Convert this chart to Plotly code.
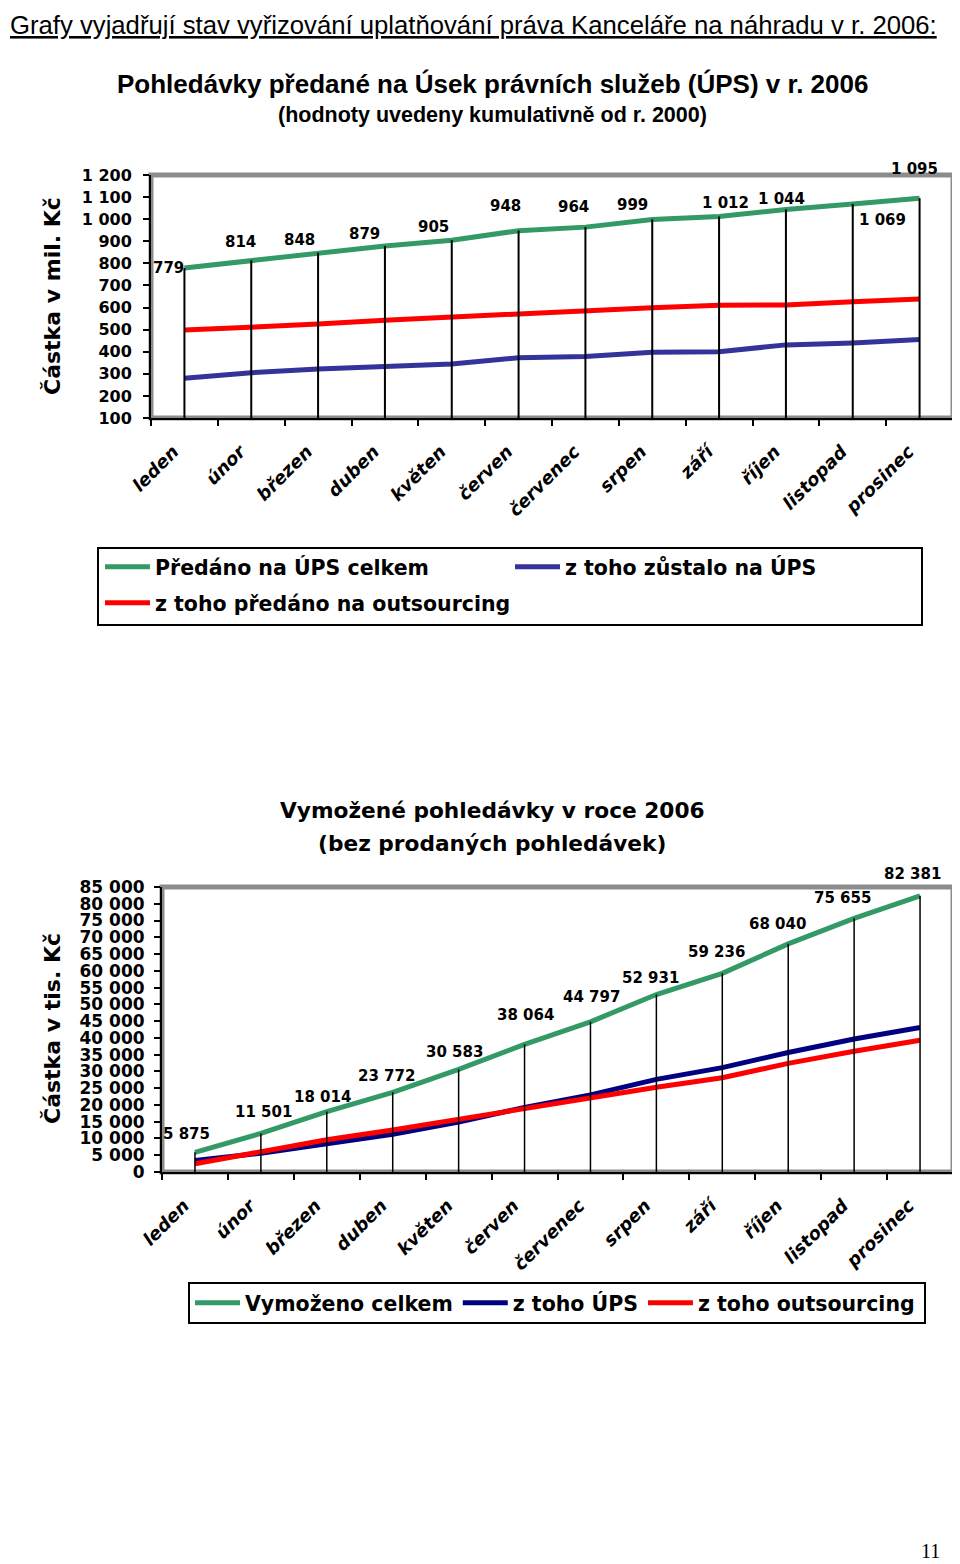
import plotly.graph_objects as go

# The page body has an 8 px margin, so the figure is sized to fill the rest of the window
OFF = 8
W, H = 960 - OFF, 1564 - OFF

# ---------------- data ----------------
months = ["leden", "únor", "březen", "duben", "květen", "červen",
          "červenec", "srpen", "září", "říjen", "listopad", "prosinec"]

# Chart 1: Pohledávky předané na ÚPS (mil. Kč, kumulativně od r. 2000)
predano_celkem = [779, 814, 848, 879, 905, 948, 964, 999, 1012, 1044, 1069, 1095]
zustalo_ups = [280, 305, 322, 335, 345, 373, 378, 398, 400, 431, 440, 455]
predano_outsourcing = [498, 509, 525, 543, 558, 574, 584, 599, 610, 612, 626, 639]

# Chart 2: Vymožené pohledávky v roce 2006 (tis. Kč)
vymozeno_celkem = [5875, 11501, 18014, 23772, 30583, 38064, 44797, 52931, 59236, 68040, 75655, 82381]
vymozeno_ups = [3400, 5600, 8400, 11270, 14880, 19260, 23000, 27630, 31136, 35640, 39655, 43081]
vymozeno_outsourcing = [2475, 5900, 9600, 12500, 15700, 18800, 21800, 25300, 28100, 32400, 36000, 39300]

# y-axis ranges / ticks
y1_range = [100, 1200]
y1_dtick = 100
y2_range = [0, 85000]
y2_dtick = 5000

# manual label offsets (pixels: dx, dy-up) as placed in the original
off1 = [(-16, 0), (-11, 18), (-19, 13), (-20, 12), (-18, 13), (-13, 25),
        (-12, 20), (-20, 14), (6, 14), (-4, 10), (30, -16), (-5, 29)]
off2 = [(-8, 18), (3, 21), (-4, 15), (-6, 16), (-4, 17), (1, 29),
        (1, 25), (-6, 17), (-6, 21), (-11, 20), (-12, 20), (-8, 22)]

GREEN = "#339966"
RED = "#FF0000"
BLUE1 = "#333399"
BLUE2 = "#000080"
FRAME = "#8C8C8C"
BOLD = "DejaVu Sans"
ARIAL = "Liberation Sans, Arial"


def px(x):
    return (x - OFF) / W


def py(y):
    return 1 - (y - OFF) / H


def fmt(v):
    return f"{v:,}".replace(",", " ")


fig = go.Figure()

# ---------------- chart 1 ----------------
fig.add_trace(go.Scatter(x=months, y=predano_celkem, mode="lines", name="Předáno na ÚPS celkem",
                         line=dict(color=GREEN, width=5), xaxis="x", yaxis="y", legend="legend",
                         hoverinfo="skip"))
fig.add_trace(go.Scatter(x=months, y=zustalo_ups, mode="lines", name="z toho zůstalo na ÚPS",
                         line=dict(color=BLUE1, width=5), xaxis="x", yaxis="y", legend="legend",
                         hoverinfo="skip"))
fig.add_trace(go.Scatter(x=months, y=predano_outsourcing, mode="lines", name="z toho předáno na outsourcing",
                         line=dict(color=RED, width=5), xaxis="x", yaxis="y", legend="legend2",
                         hoverinfo="skip"))
dx1, dy1 = [], []
for m, v in zip(months, predano_celkem):
    dx1 += [m, m, None]
    dy1 += [y1_range[0], v, None]
fig.add_trace(go.Scatter(x=dx1, y=dy1, mode="lines", line=dict(color="black", width=2),
                         showlegend=False, hoverinfo="skip", xaxis="x", yaxis="y"))

# ---------------- chart 2 ----------------
fig.add_trace(go.Scatter(x=months, y=vymozeno_celkem, mode="lines", name="Vymoženo celkem",
                         line=dict(color=GREEN, width=5), xaxis="x2", yaxis="y2", legend="legend3",
                         hoverinfo="skip"))
fig.add_trace(go.Scatter(x=months, y=vymozeno_ups, mode="lines", name="z toho ÚPS",
                         line=dict(color=BLUE2, width=5), xaxis="x2", yaxis="y2", legend="legend3",
                         hoverinfo="skip"))
fig.add_trace(go.Scatter(x=months, y=vymozeno_outsourcing, mode="lines", name="z toho outsourcing",
                         line=dict(color=RED, width=5), xaxis="x2", yaxis="y2", legend="legend3",
                         hoverinfo="skip"))
dx2, dy2 = [], []
for m, v in zip(months, vymozeno_celkem):
    dx2 += [m, m, None]
    dy2 += [y2_range[0], v, None]
fig.add_trace(go.Scatter(x=dx2, y=dy2, mode="lines", line=dict(color="black", width=1.5),
                         showlegend=False, hoverinfo="skip", xaxis="x2", yaxis="y2"))

xcommon = dict(type="category", categoryorder="array", categoryarray=months, range=[-0.5, 11.5],
               tickson="boundaries", ticks="outside", ticklen=6, tickwidth=2, tickcolor="black",
               showline=True, linecolor="black", linewidth=2, showgrid=False, zeroline=False,
               automargin=False, tickangle=-45, ticklabelstandoff=14, ticklabelshift=-11,
               tickfont=dict(family=BOLD, size=18, weight="bold", style="italic", color="black"))
ycommon = dict(tickformat=",d", ticks="outside", ticklen=6, tickwidth=2, tickcolor="black",
               showline=True, linecolor="black", linewidth=2, showgrid=False, zeroline=False,
               automargin=False)

legfont = dict(family=BOLD, size=20.5, weight="bold", color="black")
fig.update_layout(
    width=W, height=H, margin=dict(l=0, r=0, t=0, b=0, autoexpand=False),
    paper_bgcolor="white", plot_bgcolor="white", separators=", ",
    font=dict(family=BOLD, color="black"),
    xaxis=dict(domain=[px(151), px(953)], anchor="y", **xcommon),
    yaxis=dict(domain=[py(418), py(175)], anchor="x", range=y1_range, dtick=y1_dtick,
               ticklabelstandoff=8,
               tickfont=dict(family=BOLD, size=16, weight="bold", color="black"), **ycommon),
    xaxis2=dict(domain=[px(162), px(953)], anchor="y2", **xcommon),
    yaxis2=dict(domain=[py(1172), py(887)], anchor="x2", range=y2_range, dtick=y2_dtick,
                ticklabelstandoff=6,
                tickfont=dict(family=BOLD, size=17, weight="bold", color="black"), **ycommon),
    legend=dict(orientation="h", x=px(100), xanchor="left", y=py(567), yanchor="middle",
                entrywidth=350, entrywidthmode="pixels", itemwidth=45, bgcolor="rgba(0,0,0,0)",
                font=legfont),
    legend2=dict(orientation="h", x=px(100), xanchor="left", y=py(603), yanchor="middle",
                 itemwidth=45, bgcolor="rgba(0,0,0,0)", font=legfont),
    legend3=dict(orientation="h", x=px(190), xanchor="left", y=py(1303), yanchor="middle",
                 itemwidth=45, bgcolor="rgba(0,0,0,0)", font=legfont),
    showlegend=True,
)

# frames and legend boxes
fig.add_shape(type="rect", xref="x domain", yref="y domain", x0=0, x1=1, y0=0, y1=1,
              line=dict(color=FRAME, width=5), layer="below")
fig.add_shape(type="rect", xref="x2 domain", yref="y2 domain", x0=0, x1=1, y0=0, y1=1,
              line=dict(color=FRAME, width=5), layer="below")
fig.add_shape(type="rect", xref="paper", yref="paper", x0=px(98), x1=px(922), y0=py(625), y1=py(548),
              line=dict(color="black", width=2))
fig.add_shape(type="rect", xref="paper", yref="paper", x0=px(189), x1=px(925), y0=py(1323), y1=py(1283),
              line=dict(color="black", width=2))

ann = []
# header
ann.append(dict(text="Grafy vyjadřují stav vyřizování uplatňování práva Kanceláře na náhradu v r. 2006:",
                xref="paper", yref="paper", x=px(8), y=py(9), xanchor="left", yanchor="top",
                showarrow=False, font=dict(family=ARIAL, size=25.7, color="black", lineposition="under")))
# chart 1 titles
ann.append(dict(text="Pohledávky předané na Úsek právních služeb (ÚPS) v r. 2006",
                xref="paper", yref="paper", x=px(492), y=py(84), xanchor="center", yanchor="middle",
                showarrow=False, font=dict(family=ARIAL, size=26, weight="bold", color="black")))
ann.append(dict(text="(hodnoty uvedeny kumulativně od r. 2000)",
                xref="paper", yref="paper", x=px(492), y=py(115), xanchor="center", yanchor="middle",
                showarrow=False, font=dict(family=ARIAL, size=21.5, weight="bold", color="black")))
# chart 2 titles
ann.append(dict(text="Vymožené pohledávky v roce 2006",
                xref="paper", yref="paper", x=px(492), y=py(810), xanchor="center", yanchor="middle",
                showarrow=False, font=dict(family=BOLD, size=21.7, weight="bold", color="black")))
ann.append(dict(text="(bez prodaných pohledávek)",
                xref="paper", yref="paper", x=px(492), y=py(843), xanchor="center", yanchor="middle",
                showarrow=False, font=dict(family=BOLD, size=21.7, weight="bold", color="black")))
# axis titles
ann.append(dict(text="Částka v mil. Kč", xref="paper", yref="paper", x=px(52), y=py(296),
                xanchor="center", yanchor="middle", textangle=-90, showarrow=False,
                font=dict(family=BOLD, size=22, weight="bold", color="black")))
ann.append(dict(text="Částka v tis. Kč", xref="paper", yref="paper", x=px(52), y=py(1029),
                xanchor="center", yanchor="middle", textangle=-90, showarrow=False,
                font=dict(family=BOLD, size=22, weight="bold", color="black")))
# page number
ann.append(dict(text="11", xref="paper", yref="paper", x=px(930), y=py(1551), xanchor="center",
                yanchor="middle", showarrow=False,
                font=dict(family="Liberation Serif", size=20, color="black")))

# data labels
for m, v, (ox, oy) in zip(months, predano_celkem, off1):
    ann.append(dict(text=fmt(v), x=m, y=v, xref="x", yref="y", xshift=ox, yshift=oy,
                    xanchor="center", yanchor="middle", showarrow=False,
                    font=dict(family=BOLD, size=15, weight="bold", color="black")))
for m, v, (ox, oy) in zip(months, vymozeno_celkem, off2):
    ann.append(dict(text=fmt(v), x=m, y=v, xref="x2", yref="y2", xshift=ox, yshift=oy,
                    xanchor="center", yanchor="middle", showarrow=False,
                    font=dict(family=BOLD, size=15, weight="bold", color="black")))

fig.update_layout(annotations=ann)

fig.write_html("out.html")
